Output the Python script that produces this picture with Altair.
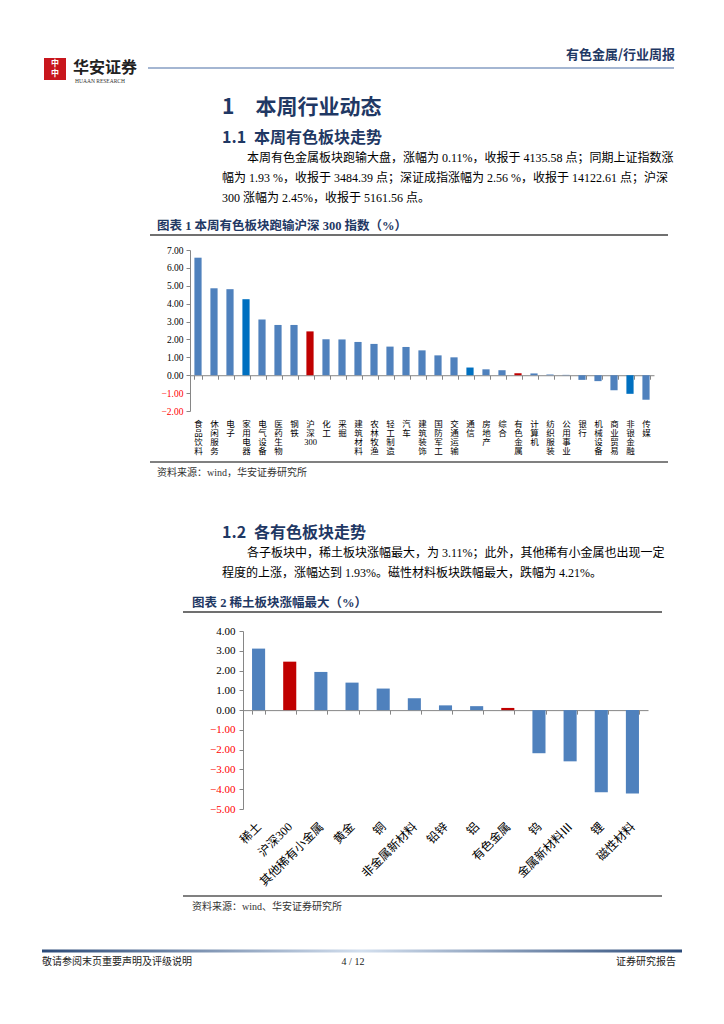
import altair as alt
import pandas as pd

# ---------------- data ----------------
cats1 = ['食品饮料', '休闲服务', '电子', '家用电器', '电气设备', '医药生物', '钢铁', '沪深300',
         '化工', '采掘', '建筑材料', '农林牧渔', '轻工制造', '汽车', '建筑装饰', '国防军工',
         '交通运输', '通信', '房地产', '综合', '有色金属', '计算机', '纺织服装', '公用事业',
         '银行', '机械设备', '商业贸易', '非银金融', '传媒']
vals1 = [6.57, 4.86, 4.81, 4.25, 3.11, 2.81, 2.81, 2.45, 2.01, 2.00, 1.86, 1.75, 1.60, 1.58,
         1.39, 1.11, 1.00, 0.43, 0.33, 0.28, 0.11, 0.10, 0.04, 0.02, -0.26, -0.33, -0.84,
         -1.04, -1.37]
dark1 = ['家用电器', '通信', '非银金融']
red1 = ['沪深300', '有色金属']
yticks1 = [-2, -1, 0, 1, 2, 3, 4, 5, 6, 7]

cats2 = ['稀土', '沪深300', '其他稀有小金属', '黄金', '铜', '非金属新材料', '铅锌', '铝',
         '有色金属', '钨', '金属新材料Ⅲ', '锂', '磁性材料']
vals2 = [3.11, 2.45, 1.93, 1.39, 1.09, 0.60, 0.24, 0.20, 0.11, -2.18, -2.59, -4.15, -4.21]
red2 = ['沪深300', '有色金属']
yticks2 = [-5, -4, -3, -2, -1, 0, 1, 2, 3, 4]


def grp(c, dark, red):
    if c in red:
        return 'red'
    if c in dark:
        return 'dark'
    return 'normal'


df1 = pd.DataFrame({'cat': cats1, 'val': vals1, 'grp': [grp(c, dark1, red1) for c in cats1]})
df2 = pd.DataFrame({'cat': cats2, 'val': vals2, 'grp': [grp(c, [], red2) for c in cats2]})

# ---------------- layout helpers ----------------
W, H = 708, 1008
M = 8


def px(v):
    return v - M


CJK = "Liberation Serif, Noto Sans CJK SC"
SANS = "Noto Sans CJK SC"
NAVY = '#1F3864'
AX = '#868686'
DUMMY = alt.InlineData(values=[{'a': 0}])


def T(s, x, y, size, color='#000000', weight='normal', align='left', font=CJK, baseline='middle'):
    return alt.Chart(DUMMY).mark_text(
        text=s, fontSize=size, color=color, fontWeight=weight, align=align,
        baseline=baseline, font=font
    ).encode(x=alt.value(px(x)), y=alt.value(px(y)))


def R(x1, x2, y, color, width):
    return alt.Chart(DUMMY).mark_rule(color=color, strokeWidth=width).encode(
        x=alt.value(px(x1)), x2=alt.value(px(x2)), y=alt.value(px(y)))


def RECT(x1, x2, y1, y2, fill):
    return alt.Chart(DUMMY).mark_rect(fill=fill).encode(
        x=alt.value(px(x1)), x2=alt.value(px(x2)), y=alt.value(px(y1)), y2=alt.value(px(y2)))


neg_red = {"expr": "datum.value < 0 ? '#FF0000' : '#000000'"}

# ---------------- chart 1 ----------------
c1_x0, c1_x1, c1_top, c1_bot = 190, 654, 250, 411
c1_zero = px(c1_bot) - (0 - yticks1[0]) / (yticks1[-1] - yticks1[0]) * (c1_bot - c1_top)

chart1 = alt.Chart(df1).mark_bar().encode(
    x=alt.X('cat:N', sort=cats1,
            scale=alt.Scale(domain=cats1, range=[px(c1_x0), px(c1_x1)],
                            paddingInner=0.55, paddingOuter=0.275),
            axis=alt.Axis(orient='bottom', offset=c1_zero - H, title=None, labelAngle=0,
                          labelExpr="datum.label == '沪深300' ? ['沪','深','300'] : split(datum.label, '')",
                          labelFont=CJK, labelFontSize=8.5, labelLineHeight=9.2,
                          labelBaseline='top', labelPadding=40, labelOverlap=False,
                          labelColor='#000000', tickBand='extent', tickSize=4,
                          domainColor=AX, tickColor=AX, grid=False)),
    y=alt.Y('val:Q',
            scale=alt.Scale(domain=[yticks1[0], yticks1[-1]], range=[px(c1_bot), px(c1_top)], nice=False),
            axis=alt.Axis(orient='left', offset=-px(c1_x0), values=yticks1, format='.2f',
                          title=None, labelFont=CJK, labelFontSize=9.5, labelColor=neg_red,
                          tickSize=4, domainColor=AX, tickColor=AX, grid=False, labelPadding=3)),
    y2=alt.datum(0),
    color=alt.Color('grp:N', scale=alt.Scale(domain=['normal', 'dark', 'red'],
                                             range=['#4F81BD', '#0070C0', '#C00000']), legend=None),
)

# ---------------- chart 2 ----------------
c2_x0, c2_x1, c2_top, c2_bot = 243, 648, 631, 809
c2_zero = px(c2_bot) - (0 - yticks2[0]) / (yticks2[-1] - yticks2[0]) * (c2_bot - c2_top)

chart2 = alt.Chart(df2).mark_bar().encode(
    x=alt.X('cat:N', sort=cats2,
            scale=alt.Scale(domain=cats2, range=[px(c2_x0), px(c2_x1)],
                            paddingInner=0.58, paddingOuter=0.29),
            axis=alt.Axis(orient='bottom', offset=c2_zero - H, title=None, labelAngle=315,
                          labelAlign='right', labelBaseline='middle',
                          labelFont=CJK, labelFontSize=12, labelPadding=110, labelOverlap=False,
                          labelColor='#000000', tickBand='extent', tickSize=4,
                          domainColor=AX, tickColor=AX, grid=False)),
    y=alt.Y('val:Q',
            scale=alt.Scale(domain=[yticks2[0], yticks2[-1]], range=[px(c2_bot), px(c2_top)], nice=False),
            axis=alt.Axis(orient='left', offset=-px(c2_x0), values=yticks2, format='.2f',
                          title=None, labelFont=CJK, labelFontSize=11, labelColor=neg_red,
                          tickSize=4, domainColor=AX, tickColor=AX, grid=False, labelPadding=4)),
    y2=alt.datum(0),
    color=alt.Color('grp:N', scale=alt.Scale(domain=['normal', 'red'],
                                             range=['#4F81BD', '#C00000']), legend=None),
)

# ---------------- page decoration ----------------
decor = [
    # header
    RECT(44, 66, 58, 80, '#C8161D'),
    T('中', 55, 64, 8, color='#FFFFFF', weight='bold', align='center', font=SANS),
    T('中', 55, 74, 8, color='#FFFFFF', weight='bold', align='center', font=SANS),
    T('华安证券', 73, 68, 16, color='#222222', weight='bold', font=SANS),
    T('HUAAN RESEARCH', 75, 81, 5.5, color='#333333', font='Liberation Serif'),
    R(148, 674, 68, '#4A6FA5', 1.2),
    T('有色金属/行业周报', 675, 55, 13, color=NAVY, weight='bold', align='right', font=SANS),
    # section 1
    T('1\u2003本周行业动态', 222, 108, 21, color=NAVY, weight='bold', font=SANS),
    T('1.1\u2002本周有色板块走势', 222, 138, 16, color=NAVY, weight='bold', font=SANS),
    T('本周有色金属板块跑输大盘，涨幅为 0.11%，收报于 4135.58 点；同期上证指数涨', 247, 158, 12),
    T('幅为 1.93 %，收报于 3484.39 点；深证成指涨幅为 2.56 %，收报于 14122.61 点；沪深', 222, 178, 12),
    T('300 涨幅为 2.45%，收报于 5161.56 点。', 222, 198, 12),
    T('图表 1 本周有色板块跑输沪深 300 指数（%）', 157, 226, 12.5, color=NAVY, weight='bold'),
    R(150, 668, 235, '#404040', 1.5),
    R(150, 668, 462, '#808080', 2),
    T('资料来源：wind，华安证券研究所', 157, 473, 10, color='#333333'),
    # section 2
    T('1.2\u2002各有色板块走势', 222, 533, 16, color=NAVY, weight='bold', font=SANS),
    T('各子板块中，稀土板块涨幅最大，为 3.11%；此外，其他稀有小金属也出现一定', 247, 553, 12),
    T('程度的上涨，涨幅达到 1.93%。磁性材料板块跌幅最大，跌幅为 4.21%。', 222, 573, 12),
    T('图表 2 稀土板块涨幅最大（%）', 192, 603, 12.5, color=NAVY, weight='bold'),
    R(183, 662, 612, '#404040', 1.5),
    R(183, 662, 896, '#808080', 2),
    T('资料来源：wind、华安证券研究所', 192, 907, 10, color='#333333'),
    # footer
    alt.Chart(DUMMY).mark_rect(fill={
        'gradient': 'linear', 'x1': 0, 'x2': 1, 'y1': 0, 'y2': 0,
        'stops': [{'offset': 0, 'color': '#2B4A78'}, {'offset': 0.5, 'color': '#D3DFEE'},
                  {'offset': 1, 'color': '#2B4A78'}]}).encode(
        x=alt.value(px(42)), x2=alt.value(px(682)), y=alt.value(px(949.5)), y2=alt.value(px(952.5))),
    T('敬请参阅末页重要声明及评级说明', 42, 962, 10, color='#222222'),
    T('4 / 12', 353, 962, 10, color='#222222', align='center'),
    T('证券研究报告', 676, 962, 10, color='#222222', align='right'),
]

chart = alt.layer(*decor, chart1, chart2).resolve_scale(
    x='independent', y='independent', color='independent'
).properties(
    width=W, height=H, padding=0, background='#FFFFFF',
    autosize=alt.AutoSizeParams(type='none')
).configure_view(strokeWidth=0, stroke='transparent')

chart.save("out.html", embed_options={"renderer": "svg", "actions": False})
